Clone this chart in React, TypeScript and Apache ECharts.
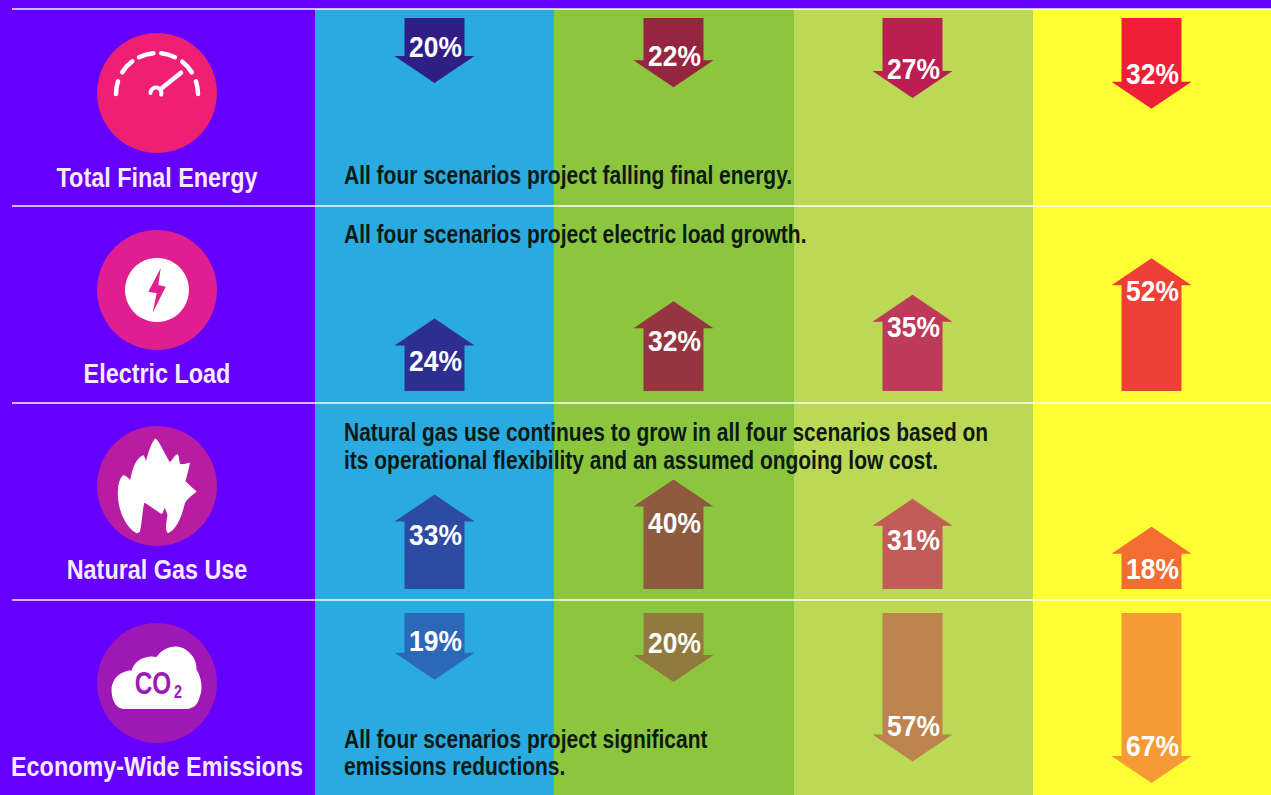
import React, { useEffect, useRef } from "react";
import * as echarts from "echarts";

const WIDTH = 1271;
const HEIGHT = 795;

const scenarios = ["Scenario A", "Scenario B", "Scenario C", "Scenario D"];
const rowTitles = ["Total Final Energy", "Electric Load", "Natural Gas Use", "Economy-Wide Emissions"];
const finalEnergyDrop = [20, 22, 27, 32];
const electricLoadRise = [24, 32, 35, 52];
const gasUseRise = [33, 40, 31, 18];
const emissionsDrop = [19, 20, 57, 67];
const rowDirections = ["down", "up", "up", "down"];
const rowNotes = [
  ["All four scenarios project falling final energy."],
  ["All four scenarios project electric load growth."],
  ["Natural gas use continues to grow in all four scenarios based on", "its operational flexibility and an assumed ongoing low cost."],
  ["All four scenarios project significant", "emissions reductions."],
];
const finalEnergyColors = ["#2f1f85", "#96253f", "#bb1f52", "#ee2037"];
const electricLoadColors = ["#2e2e91", "#963540", "#bd3a58", "#ef4037"];
const gasUseColors = ["#2d4ba3", "#8e5a3e", "#c25c56", "#f36c30"];
const emissionsColors = ["#2b68b8", "#917a3e", "#bd8450", "#f79a36"];
const columnColors = ["#29abe2", "#8cc63f", "#bbd954", "#ffff33"];
const badgeColors = ["#ef1f74", "#df1f8f", "#b81ca0", "#9f18b5"];

const rowValues = [finalEnergyDrop, electricLoadRise, gasUseRise, emissionsDrop];
const rowColors = [finalEnergyColors, electricLoadColors, gasUseColors, emissionsColors];

// Layout of each row: arrow base line, stub length below zero, title and note centres.
const PX_PER_PERCENT = 2.15;
const GRID_HEIGHT = 180;
const rowBase = [18, 391, 589, 613];
const rowStub = [22, 21, 23.5, 26];
const labelInset = [
  [37, 32, 30, 35],
  [42, 39, 32, 32],
  [39.5, 42.5, 41, 42],
  [39, 40, 36, 38],
];
const titleY = [177, 373, 569, 766];
const noteY = [[175], [234], [432, 460], [739, 766]];
const badgeY = [93, 290, 486, 683];
const ruleY = [9, 206, 403, 600];
const columnEdges = [315, 554, 794, 1033, 1271];

// The condensed look comes from squeezing the sans-serif horizontally.
const SANS = '"Liberation Sans", Arial, sans-serif';

const FLAME =
  "M410 398 C385 385 362 345 357 300 C354 270 358 240 370 228 C378 228 388 240 392 245 C398 215 405 180 430 168 C436 175 436 185 438 192 C445 165 455 130 467 118 C478 125 490 160 510 190 C520 180 528 165 533 165 C538 175 535 190 540 195 C550 195 560 193 568 190 C565 210 558 230 555 245 C565 255 578 268 588 275 C575 285 560 295 553 310 C545 345 530 385 505 398 C498 392 500 375 505 345 C500 330 497 322 493 320 C490 330 488 338 485 340 C470 330 450 315 432 305 C425 330 425 370 418 395 Z";
const CLOUD =
  "M375 928 C345 928 335 895 335 870 C335 835 365 812 395 812 C405 780 440 765 470 772 C490 740 540 725 570 760 C585 775 590 790 590 810 C605 830 610 870 600 890 C595 915 580 928 560 928 Z";
echarts.graphic.registerShape("flameIcon", echarts.graphic.extendPath(FLAME, {}));
echarts.graphic.registerShape("cloudIcon", echarts.graphic.extendPath(CLOUD, {}));

// Gauge icon: six dashes round the dial, angles in degrees.
const gaugeDashes = [[180, 198], [212, 233], [244, 265], [276, 296], [308, 328], [342, 360]];

function squeezed(x: number, y: number, text: string, font: string, fill: string, scaleX: number, align = "center") {
  return {
    type: "text",
    x,
    y,
    scaleX,
    style: { x: 0, y: 0, text, align, verticalAlign: "middle", fill, font },
  };
}

function arrowRenderer(row: number, direction: string, axisMin: number) {
  return (params: any, api: any) => {
    const col = api.value(0);
    const value = api.value(1);
    const [x, tip] = api.coord([col, value]);
    const base = api.coord([col, axisMin])[1];
    const sign = direction === "up" ? 1 : -1;
    const shaft = 30;
    const head = 40;
    const neck = tip + sign * 27;
    return {
      type: "group",
      children: [
        {
          type: "polygon",
          shape: {
            points: [
              [x - shaft, base],
              [x - shaft, neck],
              [x - head, neck],
              [x, tip],
              [x + head, neck],
              [x + shaft, neck],
              [x + shaft, base],
            ],
          },
          style: { fill: api.visual("color") },
        },
        squeezed(x + 1, tip + sign * labelInset[row][col], `${value}%`, `bold 30px ${SANS}`, "#fff", 0.88),
      ],
    };
  };
}

function buildGraphics() {
  const out: any[] = [];
  columnColors.forEach((fill, i) => {
    out.push({
      type: "rect",
      shape: { x: columnEdges[i], y: 9, width: columnEdges[i + 1] - columnEdges[i], height: HEIGHT - 9 },
      style: { fill },
    });
  });
  ruleY.forEach((y) => {
    out.push({
      type: "line",
      shape: { x1: 12, y1: y, x2: WIDTH, y2: y },
      style: { stroke: "rgba(255,255,255,0.72)", lineWidth: 2 },
    });
  });
  rowTitles.forEach((text, i) => {
    out.push({
      type: "circle",
      shape: { cx: 157, cy: badgeY[i], r: 60 },
      style: { fill: badgeColors[i] },
    });
    out.push(squeezed(157, titleY[i], text, `bold 28px ${SANS}`, "#f6eaff", 0.835));
    rowNotes[i].forEach((line, j) => {
      out.push(squeezed(344, noteY[i][j], line, `bold 25px ${SANS}`, "#0d1a14", 0.839, "left"));
    });
  });

  // Gauge
  gaugeDashes.forEach(([a, b]) => {
    out.push({
      type: "arc",
      shape: { cx: 157, cy: 94, r: 41, startAngle: (a * Math.PI) / 180, endAngle: (b * Math.PI) / 180 },
      style: { stroke: "#fff", lineWidth: 4.5, lineCap: "round", fill: "none" },
    });
  });
  out.push({
    type: "line",
    shape: { x1: 181, y1: 72.7, x2: 162, y2: 88 },
    style: { stroke: "#fff", lineWidth: 4.5, lineCap: "round" },
  });
  out.push({
    type: "arc",
    shape: { cx: 156, cy: 93, r: 5.5, startAngle: Math.PI, endAngle: Math.PI * 2.1 },
    style: { stroke: "#fff", lineWidth: 4, lineCap: "round", fill: "none" },
  });

  // Lightning bolt
  out.push({ type: "circle", shape: { cx: 157, cy: 290, r: 32 }, style: { fill: "#fff" } });
  out.push({
    type: "polygon",
    shape: {
      points: [[160.7, 268.3], [148.3, 291.7], [156.7, 293.3], [152.7, 312.7], [165.7, 286.7], [158.3, 285]],
    },
    style: { fill: badgeColors[1] },
  });

  // Flame
  out.push({
    type: "flameIcon",
    x: 0,
    y: 400,
    scaleX: 1 / 3,
    scaleY: 1 / 3,
    style: { fill: "#fff", stroke: "#fff", lineWidth: 4, lineJoin: "round" },
  });

  // Cloud with its CO2 mark
  out.push({
    type: "cloudIcon",
    x: 0,
    y: 400,
    scaleX: 1 / 3,
    scaleY: 1 / 3,
    style: { fill: "#fff" },
  });
  out.push(squeezed(153, 683, "CO", `bold 32px ${SANS}`, badgeColors[3], 0.76));
  out.push(squeezed(178, 691, "2", `bold 18px ${SANS}`, badgeColors[3], 0.8));
  return out;
}

function buildOption() {
  const grids: any[] = [];
  const xAxes: any[] = [];
  const yAxes: any[] = [];
  const series: any[] = [];
  rowValues.forEach((values, i) => {
    const up = rowDirections[i] === "up";
    const axisMin = -rowStub[i] / PX_PER_PERCENT;
    grids.push({
      left: columnEdges[0],
      width: WIDTH - columnEdges[0],
      top: up ? rowBase[i] - GRID_HEIGHT : rowBase[i],
      height: GRID_HEIGHT,
    });
    xAxes.push({ type: "category", gridIndex: i, data: scenarios, show: false });
    yAxes.push({
      type: "value",
      gridIndex: i,
      show: false,
      inverse: !up,
      min: axisMin,
      max: axisMin + GRID_HEIGHT / PX_PER_PERCENT,
    });
    series.push({
      type: "custom",
      name: rowTitles[i],
      xAxisIndex: i,
      yAxisIndex: i,
      clip: false,
      encode: { x: 0, y: 1 },
      renderItem: arrowRenderer(i, rowDirections[i], axisMin),
      data: values.map((v, col) => ({ value: [col, v], itemStyle: { color: rowColors[i][col] } })),
    });
  });
  return {
    animation: false,
    backgroundColor: "#6500fe",
    grid: grids,
    xAxis: xAxes,
    yAxis: yAxes,
    series,
    graphic: { elements: buildGraphics() },
  };
}

export default function App() {
  const ref = useRef<HTMLDivElement>(null);
  useEffect(() => {
    document.body.style.margin = "0";
    const chart = echarts.init(ref.current!, undefined, { renderer: "svg" });
    chart.setOption(buildOption());
    return () => chart.dispose();
  }, []);
  return <div ref={ref} style={{ width: WIDTH, height: HEIGHT }} />;
}
